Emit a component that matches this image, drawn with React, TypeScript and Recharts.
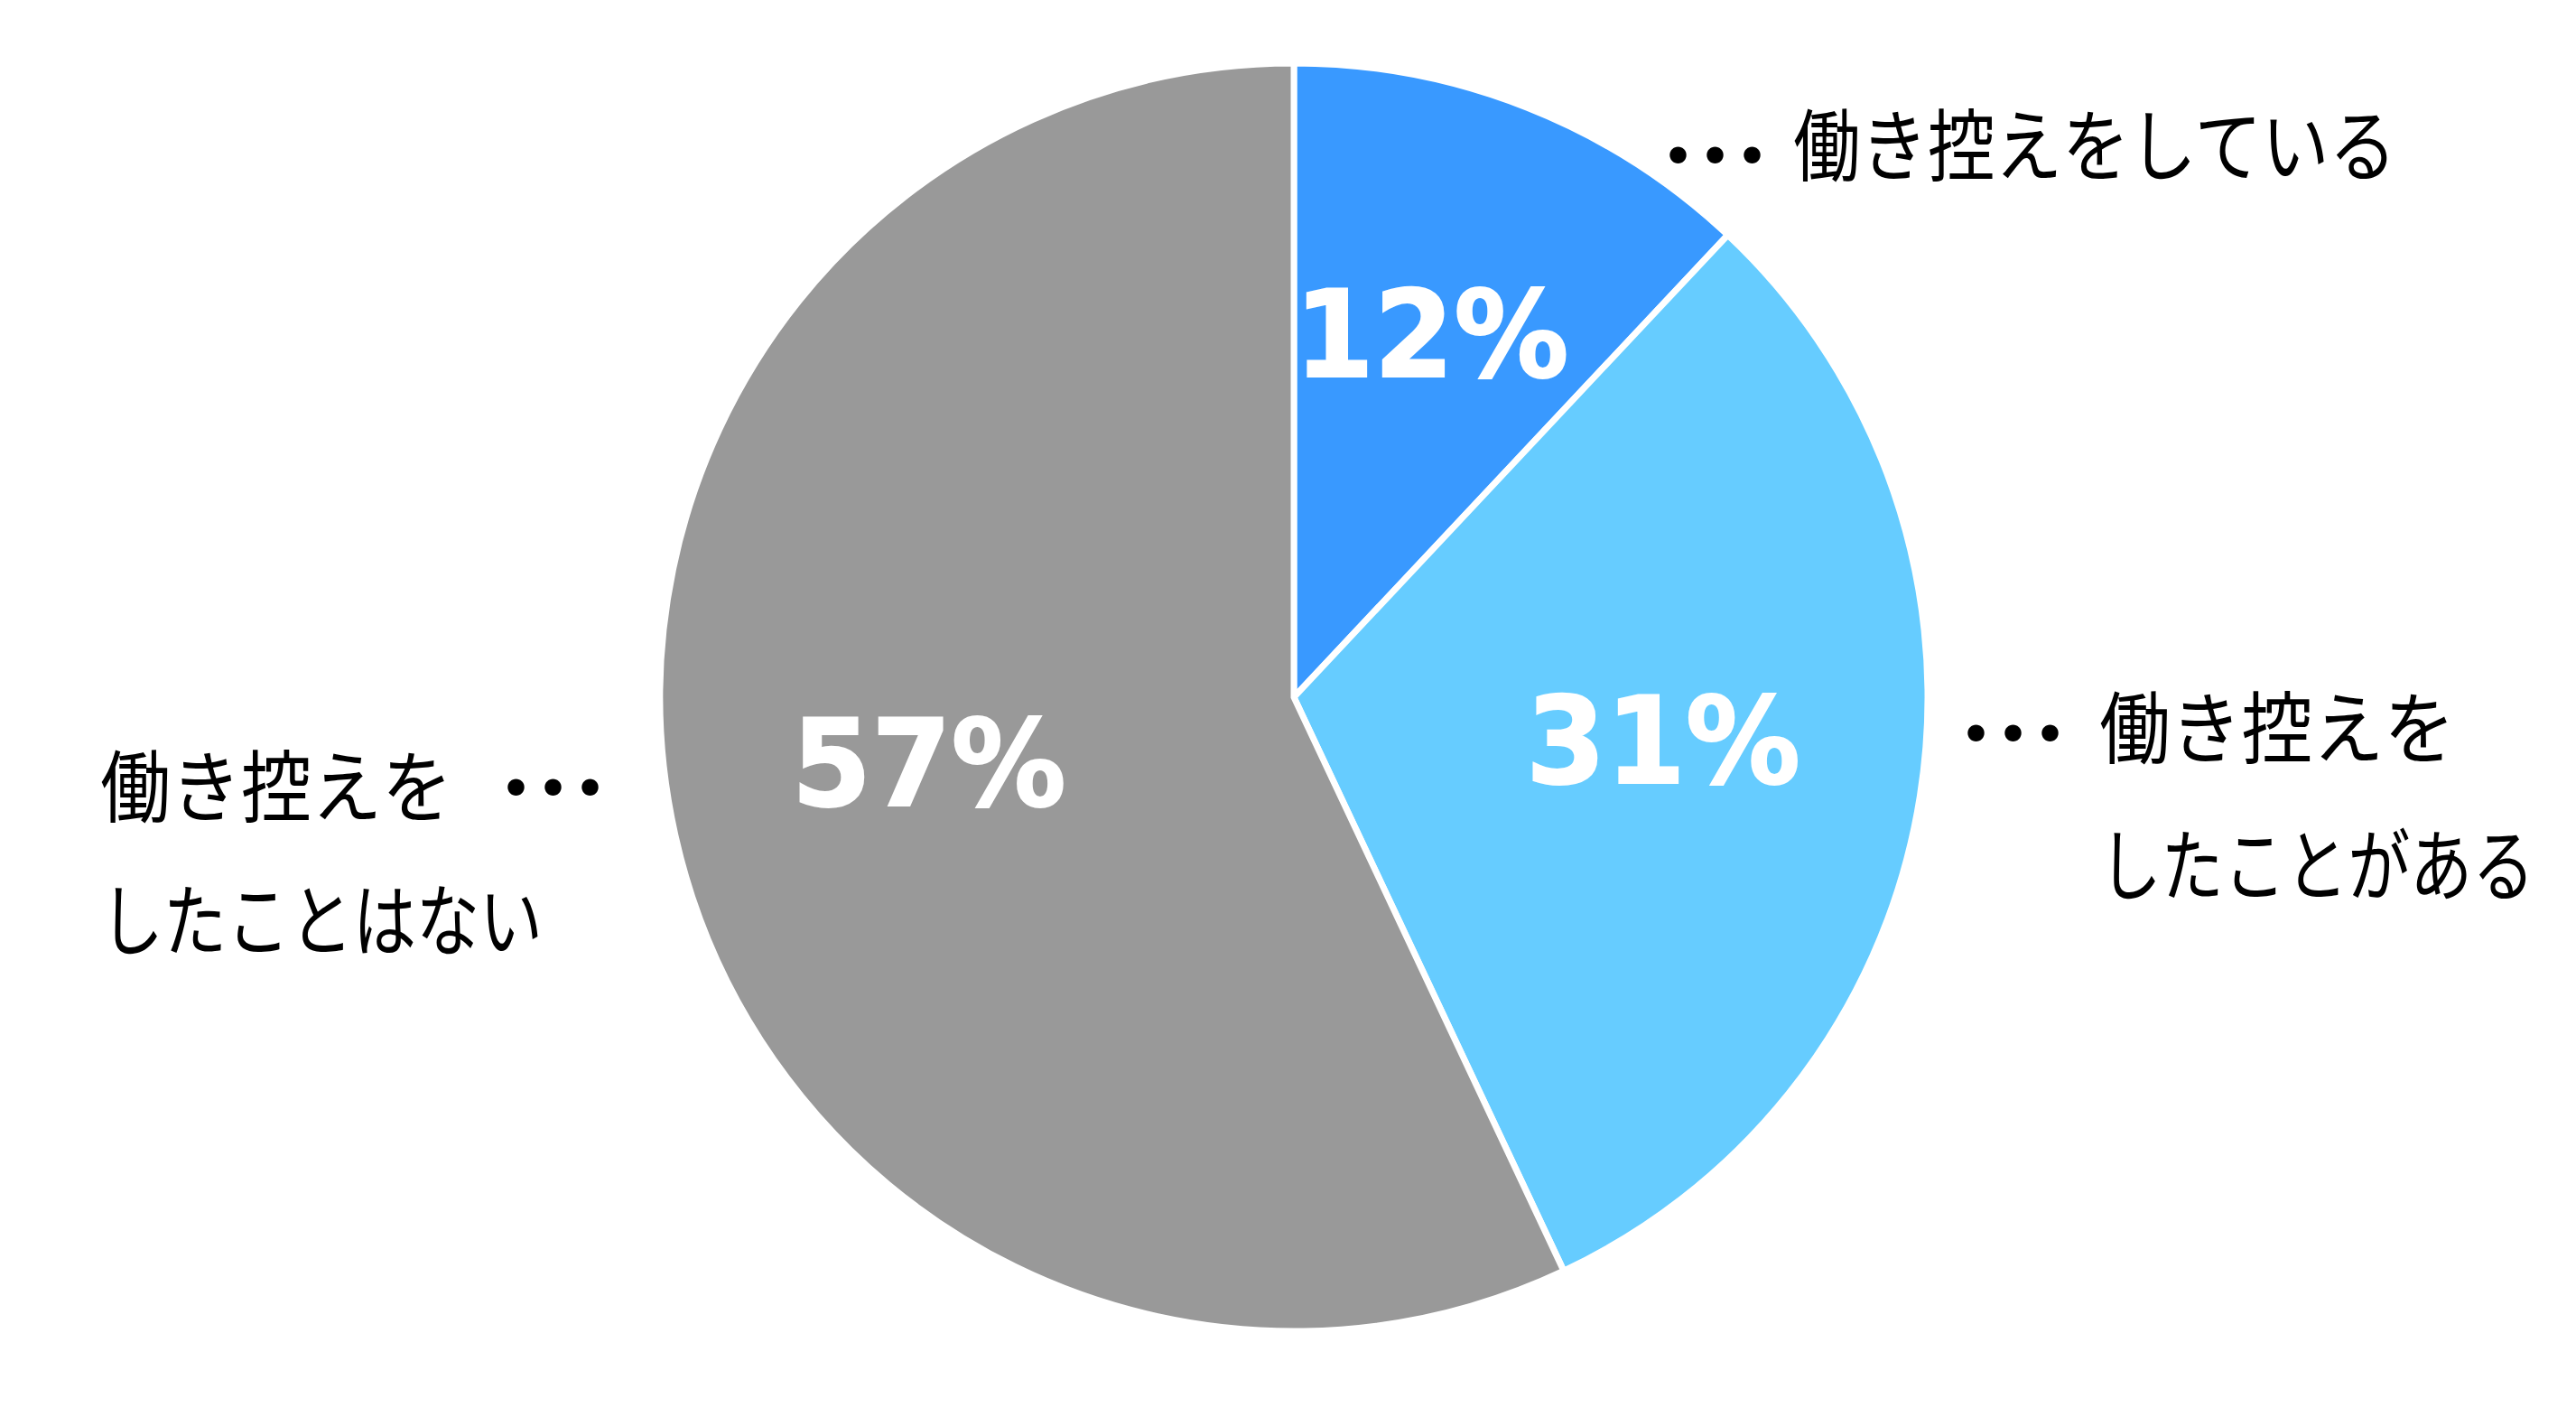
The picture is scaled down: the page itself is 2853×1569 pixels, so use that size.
import React from 'react';
import { PieChart, Pie, Cell } from 'recharts';

const categories = ['働き控えをしている', '働き控えをしたことがある', '働き控えをしたことはない'];
const shares = [12, 31, 57];
const percentLabels = ['12%', '31%', '57%'];
const labelLines = [['働き控えをしている'], ['働き控えを', 'したことがある'], ['働き控えを', 'したことはない']];

const colors = ['#3999FF', '#66CCFF', '#999999'];

const data = categories.map((name, i) => ({ name, value: shares[i] }));

// where each callout sits: dots first, then the text lines
const calloutLayout = [
  { dots: { x: 1815, y: 205 }, lines: [{ x: 1986, y: 194, w: 668 }] },
  { dots: { x: 2145, y: 845 }, lines: [{ x: 2325, y: 839, w: 394 }, { x: 2325, y: 991, w: 482 }] },
  { dots: { x: 528, y: 905 }, lines: [{ x: 111, y: 904, w: 390 }, { x: 111, y: 1052, w: 490 }] },
];

const RADIAN = Math.PI / 180;
const JP_FONT = '"Noto Sans CJK JP", "Noto Sans", sans-serif';

const renderPercent = (props: any) => {
  const { cx, cy, midAngle, outerRadius, index } = props;
  const r = outerRadius * 0.59;
  const x = cx + r * Math.cos(-midAngle * RADIAN);
  const y = cy + r * Math.sin(-midAngle * RADIAN);
  return (
    <text
      x={x}
      y={y + 30}
      textAnchor="middle"
      fill="#ffffff"
      stroke="#ffffff"
      strokeWidth={2}
      fontFamily='"DejaVu Sans", sans-serif'
      fontWeight="bold"
      fontSize={133}
      textLength={304}
      lengthAdjust="spacingAndGlyphs"
    >
      {percentLabels[index]}
    </text>
  );
};

const Callouts: React.FC = () => (
  <svg
    width={2853}
    height={1569}
    style={{ position: 'absolute', left: 0, top: 0, pointerEvents: 'none' }}
  >
    {calloutLayout.map((c, i) => (
      <g key={i}>
        <text
          x={c.dots.x}
          y={c.dots.y}
          fontFamily={JP_FONT}
          fontSize={87}
          fill="#000"
          style={{ letterSpacing: '-46px' }}
        >
          ・・・
        </text>
        {labelLines[i].map((line, j) => (
          <text
            key={j}
            x={c.lines[j].x}
            y={c.lines[j].y}
            fontFamily={JP_FONT}
            fontSize={87}
            fill="#000"
            textLength={c.lines[j].w}
            lengthAdjust="spacingAndGlyphs"
          >
            {line}
          </text>
        ))}
      </g>
    ))}
  </svg>
);

export default function App() {
  return (
    <div style={{ position: 'absolute', left: 0, top: 0, width: 2853, height: 1569, background: '#fff' }}>
      <PieChart width={2853} height={1569} margin={{ top: 0, right: 0, bottom: 0, left: 0 }}>
        <Pie
          data={data}
          dataKey="value"
          nameKey="name"
          cx={1433}
          cy={772}
          outerRadius={702}
          startAngle={90}
          endAngle={-270}
          stroke="#ffffff"
          strokeWidth={7}
          labelLine={false}
          label={renderPercent}
          isAnimationActive={false}
        >
          {data.map((d, i) => (
            <Cell key={d.name} fill={colors[i]} />
          ))}
        </Pie>
      </PieChart>
      <Callouts />
    </div>
  );
}
